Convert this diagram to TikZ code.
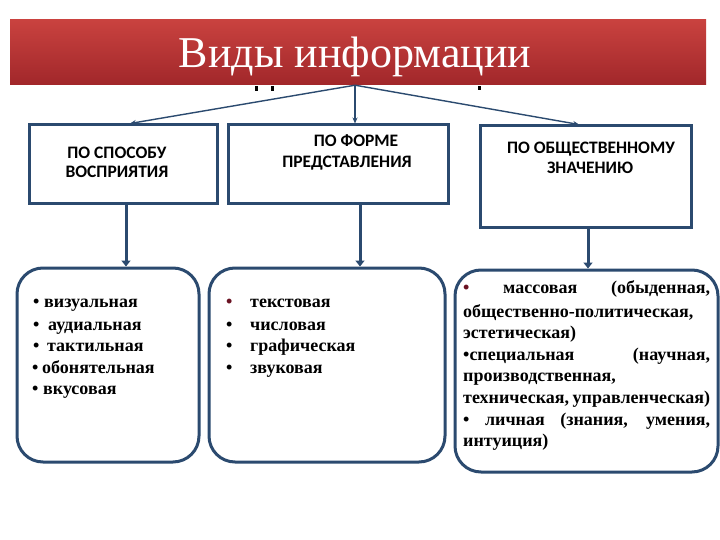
\documentclass[tikz,border=0pt]{standalone}
\usepackage{fontspec}
\setmainfont{Liberation Serif}
\newfontfamily\calfont{Carlito}
\usetikzlibrary{arrows.meta}
\definecolor{navy}{HTML}{2B4A6F}
\definecolor{bannertop}{HTML}{C9423F}
\definecolor{bannerbot}{HTML}{A1272A}
\definecolor{bulred}{HTML}{6A1222}
\begin{document}
\begin{tikzpicture}[x=1pt,y=-1pt,
  catbox/.style={draw=navy,line width=3pt,fill=white,inner sep=0pt},
  listbox/.style={draw=navy,line width=3pt,rounded corners=26pt,fill=white,inner sep=0pt},
  cattext/.style={font=\calfont\bfseries\fontsize{17.5}{20}\selectfont,anchor=base,inner sep=0pt},
  item/.style={font=\bfseries\fontsize{18}{21}\selectfont,anchor=base west,inner sep=0pt},
  thinarrow/.style={draw=navy,line width=1.4pt,-{Stealth[length=6pt,width=5pt]}},
  thickarrow/.style={draw=navy,line width=3pt,-{Triangle[length=6pt,width=9pt]}}
]
\useasboundingbox (0,0) rectangle (720,540);
\fill[white] (0,0) rectangle (720,540);
% banner
\node[minimum width=696pt,minimum height=65pt,inner sep=0pt,top color=bannertop,bottom color=bannerbot] (ban) at (358,52.5) {};
\node[font=\fontsize{44}{48}\selectfont,text=white,anchor=base,inner sep=0pt] (title) at (355,68) {Виды информации};
\fill (255,86) rectangle (258,91);
\fill (271,86) rectangle (274,91);
\fill (478,86) rectangle (481,90);
% category boxes
\node[catbox,minimum width=188pt,minimum height=79pt] (a) at (123,164.5) {};
\node[catbox,minimum width=220pt,minimum height=79pt] (b) at (338,164.5) {};
\node[catbox,minimum width=211pt,minimum height=102pt] (c) at (585.5,177) {};
\node[cattext] (a1) at (117,159) {ПО СПОСОБУ};
\node[cattext] (a2) at (117,178) {ВОСПРИЯТИЯ};
\node[cattext] (b1) at (356,147) {ПО ФОРМЕ};
\node[cattext] (b2) at (347,168) {ПРЕДСТАВЛЕНИЯ};
\node[cattext] (c1) at (591,154) {ПО ОБЩЕСТВЕННОМУ};
\node[cattext] (c2) at (590,174) {ЗНАЧЕНИЮ};
% list boxes
\node[listbox,minimum width=182pt,minimum height=194pt] (d) at (108,365) {};
\node[listbox,minimum width=236pt,minimum height=194pt] (e) at (327,365) {};
\node[listbox,minimum width=263pt,minimum height=202pt] (f) at (586.5,371) {};
% arrows
\draw[thinarrow] (355,0 |- ban.south) -- (130,0 |- a.north);
\draw[thinarrow] (355,0 |- ban.south) -- (355,0 |- b.north);
\draw[thinarrow] (355,0 |- ban.south) -- (579,0 |- c.north);
\draw[thickarrow] (126,0 |- a.south) -- (126,0 |- d.north);
\draw[thickarrow] (360,0 |- b.south) -- (360,0 |- e.north);
\draw[thickarrow] (588,0 |- c.south) -- (588,0 |- f.north);
% left list
\node[item] (d1) at (33,307) {\makebox[11pt][l]{•}визуальная};
\node[item] (d2) at (33,330) {\makebox[15pt][l]{•}аудиальная};
\node[item] (d3) at (33,351) {\makebox[14pt][l]{•}тактильная};
\node[item] (d4) at (32,373) {\makebox[10pt][l]{•}обонятельная};
\node[item] (d5) at (32,394) {\makebox[11pt][l]{•}вкусовая};
% middle list
\node[item] (e1) at (226,307) {\makebox[24pt][l]{\textcolor{bulred}{•}}текстовая};
\node[item] (e2) at (226,330) {\makebox[24pt][l]{•}числовая};
\node[item] (e3) at (226,351) {\makebox[24pt][l]{•}графическая};
\node[item] (e4) at (226,373) {\makebox[24pt][l]{•}звуковая};
% right list
\node[item] (f1) at (463,293) {\makebox[247pt][s]{\textcolor{bulred}{•} массовая (обыденная,}};
\node[item] (f2) at (463,317) {общественно-политическая,};
\node[item] (f3) at (463,338) {эстетическая)};
\node[item] (f4) at (463,360) {\makebox[247pt][s]{•специальная (научная,}};
\node[item] (f5) at (463,381) {производственная,};
\node[item] (f6) at (463,403) {\makebox[247pt][s]{техническая, управленческая)}};
\node[item] (f7) at (463,425) {\makebox[247pt][s]{• личная (знания, умения,}};
\node[item] (f8) at (463,446) {интуиция)};
\end{tikzpicture}
\end{document}
